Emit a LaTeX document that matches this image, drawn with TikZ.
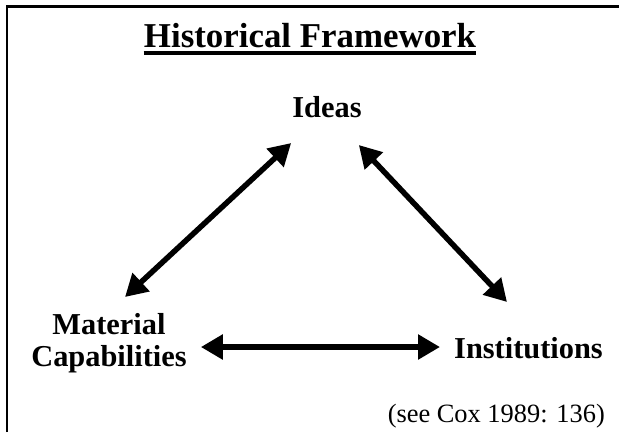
\documentclass[tikz,border=0pt]{standalone}
\usepackage{fontspec}
\setmainfont{Liberation Serif}
\usetikzlibrary{arrows.meta,calc}
\begin{document}
\begin{tikzpicture}[x=1bp,y=-1bp,
  concept/.style={font=\fontsize{30.5}{32}\selectfont\bfseries, inner sep=0pt, align=center},
  link/.style={line width=5.5bp,
    {Triangle[length=22bp,width=24bp]}-{Triangle[length=22bp,width=24bp]}},
  frameline/.style={line width=2.4bp}]
\useasboundingbox (0,0) rectangle (619,432);
% open frame: top and left edges only
\draw[frameline] (7,432) -- (7,6.6) -- (619,6.6);

% heading
\node[anchor=base, font=\fontsize{35}{37}\selectfont\bfseries, inner sep=0pt]
  (title) at (310,47.5) {Historical Framework};
\draw[line width=3.2bp] ([yshift=-5.5bp]title.base west) -- ([yshift=-5.5bp]title.base east);

% the three forces
\node[concept, anchor=base] (ideas) at (327,117) {Ideas};
\node[concept, anchor=north] (mat) at (109,313.5) {Material\\Capabilities};
\node[concept, anchor=base west] (inst) at (454,358) {Institutions};

% source
\node[anchor=base east, font=\fontsize{26.5}{28}\selectfont, inner sep=0pt]
  (src) at (605,422) {(see Cox 1989: 136)};

% reciprocal relations
\draw[link] ($(mat.north)+(16,-16.5)$) -- ($(ideas.base west)+(-1,26)$);
\draw[link] ($(ideas.base east)+(-3,28)$) -- ($(inst.base west)+(53,-56)$);
\draw[link] ($(mat.east |- inst.base)+(14,-11)$) -- ($(inst.base west)+(-14,-11)$);
\end{tikzpicture}
\end{document}
